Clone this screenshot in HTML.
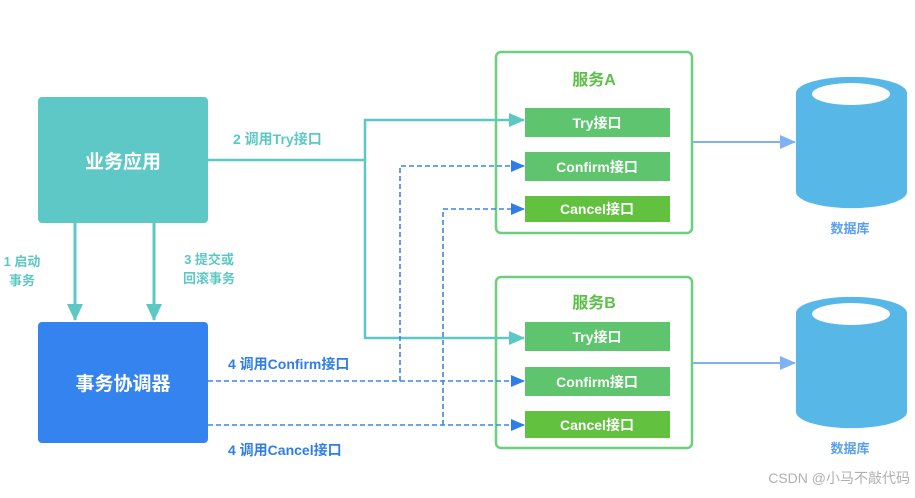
<!DOCTYPE html>
<html><head><meta charset="utf-8"><style>
body{margin:0;background:#fff;}
svg text{font-family:"Liberation Sans","Noto Sans CJK SC",sans-serif;font-weight:bold;}
</style></head><body>
<svg width="915" height="493" viewBox="0 0 915 493" xmlns="http://www.w3.org/2000/svg">
<defs>
<marker id="at" markerWidth="16" markerHeight="14" refX="15" refY="7" orient="auto" markerUnits="userSpaceOnUse"><path d="M0,0 L16,7 L0,14 Z" fill="#5cc8c4"/></marker>
<marker id="ab" markerWidth="14" markerHeight="12" refX="13" refY="6" orient="auto" markerUnits="userSpaceOnUse"><path d="M0,0 L14,6 L0,12 Z" fill="#2f7de8"/></marker>
<marker id="al" markerWidth="16" markerHeight="14" refX="15" refY="7" orient="auto" markerUnits="userSpaceOnUse"><path d="M0,0 L16,7 L0,14 Z" fill="#7fb2f2"/></marker>
</defs>
<rect x="496" y="52" width="196" height="181" rx="5" fill="#fff" stroke="#6ccf7c" stroke-width="2.5"/>
<rect x="496" y="277" width="196" height="171" rx="5" fill="#fff" stroke="#6ccf7c" stroke-width="2.5"/>
<rect x="38" y="97" width="170" height="126" rx="4" fill="#5ec8c6"/>
<text x="123" y="168" fill="#fff" font-size="19" text-anchor="middle">业务应用</text>
<rect x="38" y="322" width="170" height="121" rx="4" fill="#3483ee"/>
<text x="123" y="390" fill="#fff" font-size="19" text-anchor="middle">事务协调器</text>
<line x1="75" y1="223" x2="75" y2="320" stroke="#5cc8c4" stroke-width="3"/>
<path d="M67,304 L83,304 L75,321 Z" fill="#5cc8c4"/>
<line x1="154" y1="223" x2="154" y2="320" stroke="#5cc8c4" stroke-width="3"/>
<path d="M146,304 L162,304 L154,321 Z" fill="#5cc8c4"/>
<text x="22" y="266" fill="#5cc8c4" font-size="13" text-anchor="middle">1 启动</text>
<text x="22" y="285" fill="#5cc8c4" font-size="13" text-anchor="middle">事务</text>
<text x="209" y="264" fill="#5cc8c4" font-size="13" text-anchor="middle">3 提交或</text>
<text x="209" y="283" fill="#5cc8c4" font-size="13" text-anchor="middle">回滚事务</text>
<text x="233" y="144" fill="#5cc8c4" font-size="14">2 调用Try接口</text>
<polyline points="208,160 365,160 365,338 524,338" fill="none" stroke="#5cc8c4" stroke-width="2.5" marker-end="url(#at)"/>
<polyline points="365,160 365,120 524,120" fill="none" stroke="#5cc8c4" stroke-width="2.5" marker-end="url(#at)"/>
<g fill="none" stroke="#3c86ea" stroke-width="1.6" stroke-dasharray="5,3">
<polyline points="208,381 524,381" marker-end="url(#ab)"/>
<polyline points="400,381 400,166 524,166" marker-end="url(#ab)"/>
<polyline points="208,425 524,425" marker-end="url(#ab)"/>
<polyline points="443,425 443,209 524,209" marker-end="url(#ab)"/>
</g>
<text x="228" y="369" fill="#2f7de8" font-size="14">4 调用Confirm接口</text>
<text x="228" y="455" fill="#2f7de8" font-size="14">4 调用Cancel接口</text>
<text x="594" y="85" fill="#5cc048" font-size="16" text-anchor="middle">服务A</text>
<rect x="525" y="108" width="145" height="29" fill="#5fc46e"/>
<text x="597" y="128" fill="#fff" font-size="14" text-anchor="middle">Try接口</text>
<rect x="525" y="152" width="145" height="29" fill="#5fc46e"/>
<text x="597" y="172" fill="#fff" font-size="14" text-anchor="middle">Confirm接口</text>
<rect x="525" y="196" width="145" height="26" fill="#62c13f"/>
<text x="597" y="214" fill="#fff" font-size="14" text-anchor="middle">Cancel接口</text>
<text x="594" y="308" fill="#5cc048" font-size="16" text-anchor="middle">服务B</text>
<rect x="525" y="322" width="145" height="29" fill="#5fc46e"/>
<text x="597" y="342" fill="#fff" font-size="14" text-anchor="middle">Try接口</text>
<rect x="525" y="367" width="145" height="29" fill="#5fc46e"/>
<text x="597" y="387" fill="#fff" font-size="14" text-anchor="middle">Confirm接口</text>
<rect x="525" y="411" width="145" height="27" fill="#62c13f"/>
<text x="597" y="430" fill="#fff" font-size="14" text-anchor="middle">Cancel接口</text>
<line x1="692" y1="142" x2="795" y2="142" stroke="#7fb2f2" stroke-width="2" marker-end="url(#al)"/>
<line x1="692" y1="363" x2="795" y2="363" stroke="#7fb2f2" stroke-width="2" marker-end="url(#al)"/>
<g fill="#57b8e8">
<path d="M796,93 A55,16 0 0 1 907,93 L907,192 A55,16 0 0 1 796,192 Z"/>
<path d="M796,313 A55,16 0 0 1 907,313 L907,412 A55,16 0 0 1 796,412 Z"/>
</g>
<ellipse cx="851" cy="94" rx="39" ry="11" fill="#fff"/>
<ellipse cx="851" cy="314" rx="39" ry="11" fill="#fff"/>
<text x="850" y="233" fill="#5aa0ea" font-size="13" text-anchor="middle">数据库</text>
<text x="850" y="453" fill="#5aa0ea" font-size="13" text-anchor="middle">数据库</text>
<text x="910" y="483" fill="#b0b0b0" font-size="14" style="font-weight:normal" text-anchor="end">CSDN @小马不敲代码</text>
</svg>
</body></html>
